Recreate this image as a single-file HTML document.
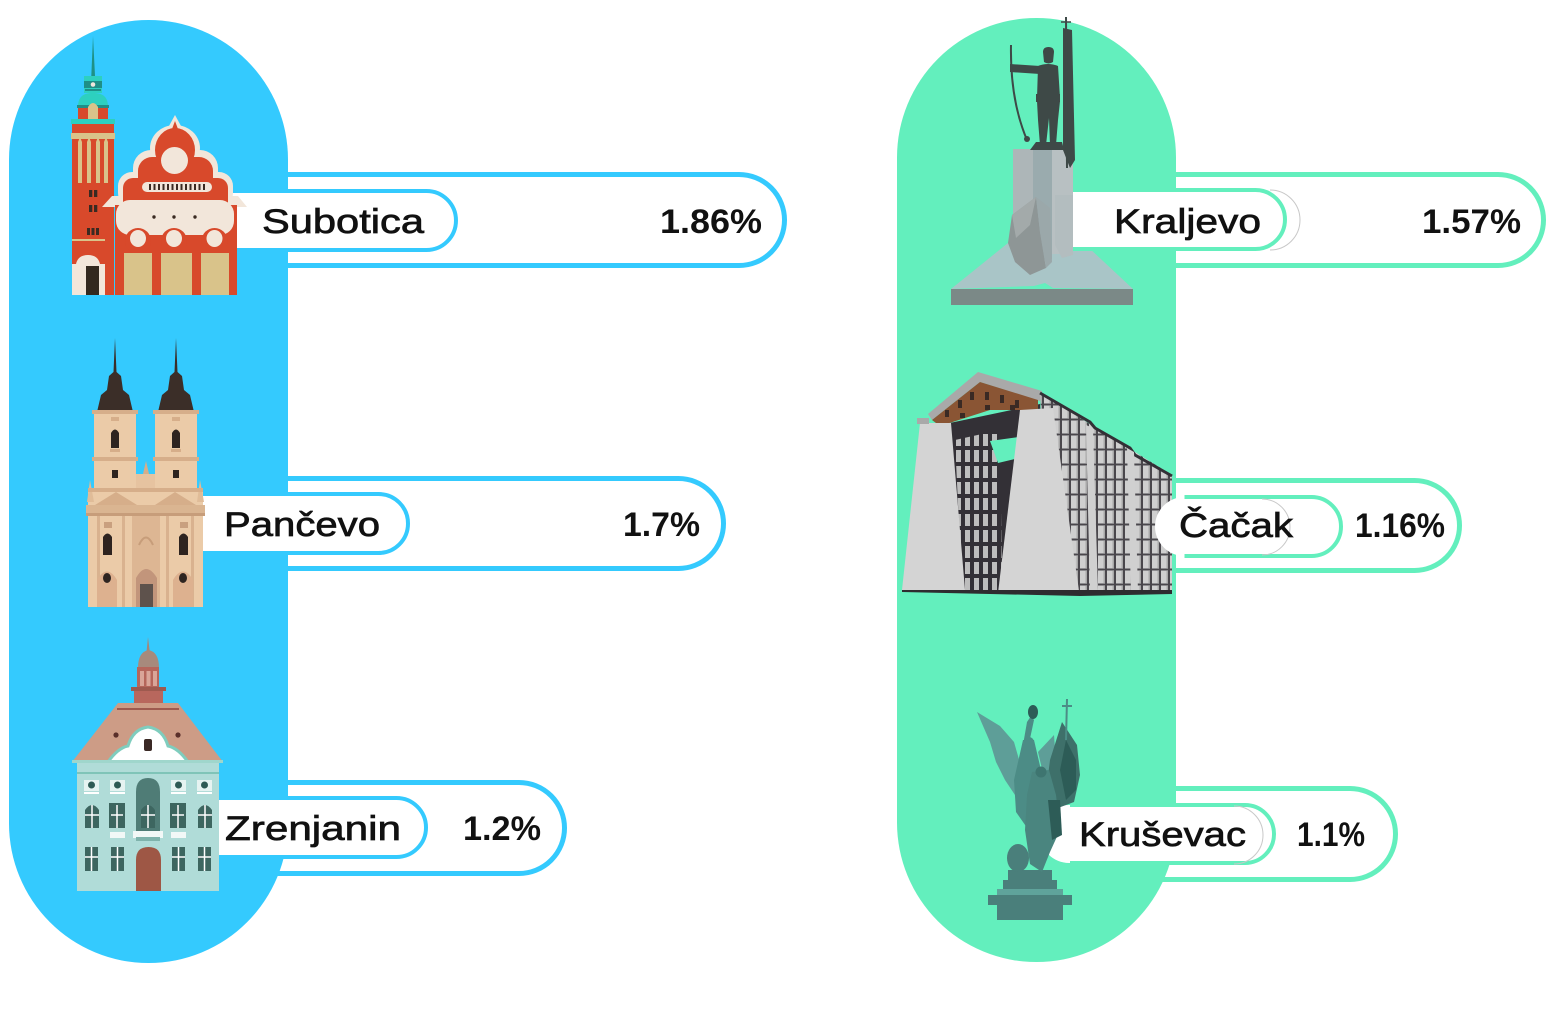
<!DOCTYPE html>
<html><head><meta charset="utf-8">
<style>
html,body{margin:0;padding:0;background:#fff;}
body{width:1549px;height:1010px;overflow:hidden;}
svg{display:block;}
.nm{font-family:"Liberation Sans",sans-serif;font-size:34px;fill:#111;stroke:#111;stroke-width:0.7px;}
.vl{font-family:"Liberation Sans",sans-serif;font-size:34px;font-weight:bold;fill:#111;}
</style></head>
<body>
<svg width="1549" height="1010" viewBox="0 0 1549 1010" xmlns="http://www.w3.org/2000/svg">
<defs>
 <pattern id="pnl" width="9" height="15" patternUnits="userSpaceOnUse">
  <rect width="9" height="15" fill="#4A474C"/>
  <rect x="0" y="0.5" width="7" height="13" fill="#CFCFCF"/>
  <rect x="5.5" y="1" width="1.5" height="12" fill="#A8A8A8"/>
 </pattern>
 <pattern id="pnl2" width="9" height="16" patternUnits="userSpaceOnUse">
  <rect width="9" height="16" fill="#333036"/>
  <rect x="2" y="2" width="5" height="12" fill="#BDBDBD"/>
 </pattern>
</defs>

<!-- ===== OUTER BARS ===== -->
<g fill="#fff" stroke-width="5">
 <rect x="150" y="174.5" width="634.5" height="91" rx="45.5" stroke="#34CAFE"/>
 <rect x="150" y="478.5" width="573.5" height="90" rx="45" stroke="#34CAFE"/>
 <rect x="150" y="782.5" width="414.5" height="91" rx="45.5" stroke="#34CAFE"/>
 <rect x="1037" y="174.5" width="506.5" height="91" rx="45.5" stroke="#63EFBD"/>
 <rect x="1037" y="480.5" width="422.5" height="90" rx="45" stroke="#63EFBD"/>
 <rect x="1037" y="788.5" width="358.5" height="91" rx="45.5" stroke="#63EFBD"/>
</g>

<!-- ===== BIG PILLS ===== -->
<rect x="9" y="20" width="279" height="943" rx="139.5" fill="#34CAFE"/>
<rect x="897" y="18" width="279" height="944" rx="139.5" fill="#63EFBD"/>

<!-- ===== INNER PILLS (left) ===== -->
<g>
 <rect x="150" y="191" width="306" height="59" rx="29.5" fill="#fff"/>
 <path d="M150,191 H426.5 A29.5,29.5 0 0 1 426.5,250 H150" fill="none" stroke="#34CAFE" stroke-width="4"/>
 <rect x="150" y="494" width="258" height="59" rx="29.5" fill="#fff"/>
 <path d="M150,494 H378.5 A29.5,29.5 0 0 1 378.5,553 H150" fill="none" stroke="#34CAFE" stroke-width="4"/>
 <rect x="150" y="798" width="276" height="59" rx="29.5" fill="#fff"/>
 <path d="M150,798 H396.5 A29.5,29.5 0 0 1 396.5,857 H150" fill="none" stroke="#34CAFE" stroke-width="4"/>
</g>

<!-- ===== SUBOTICA ===== -->
<g>
 <polygon points="93,36 91.3,76 95,76" fill="#1F9186"/>
 <rect x="84" y="76" width="18" height="17" fill="#2DD0BF"/>
 <rect x="84" y="81" width="18" height="7" fill="#1F8F86"/>
 <circle cx="93" cy="84.5" r="2.3" fill="#F0E6DC"/>
 <rect x="85" y="89" width="16" height="2" fill="#1F8F86"/>
 <path d="M78,107 C78,96 84,93 93,93 C102,93 108,96 108,107 Z" fill="#2DD0BF"/>
 <rect x="77" y="105" width="32" height="3" fill="#1F8F86"/>
 <rect x="78" y="108" width="30" height="12" fill="#D8492B"/>
 <path d="M88,120 V107 Q93,99 98,107 V120 Z" fill="#D9C38A"/>
 <rect x="71" y="119" width="44" height="5" fill="#2DD0BF"/>
 <rect x="72" y="124" width="42" height="171" fill="#D8492B"/>
 <rect x="71" y="133" width="44" height="6" fill="#D9C38A"/>
 <g fill="#D9C38A">
  <path d="M78,183 V142 L80,137 L82,142 V183 Z"/>
  <path d="M87,183 V142 L89,137 L91,142 V183 Z"/>
  <path d="M96,183 V142 L98,137 L100,142 V183 Z"/>
  <path d="M104,183 V142 L106,137 L108,142 V183 Z"/>
 </g>
 <g fill="#3A2A22">
  <rect x="89" y="190" width="3.3" height="7"/><rect x="94" y="190" width="3.3" height="7"/>
  <rect x="89" y="205" width="3.3" height="7"/><rect x="94" y="205" width="3.3" height="7"/>
  <rect x="87" y="228" width="3" height="7"/><rect x="91.5" y="228" width="3" height="7"/><rect x="96" y="228" width="3" height="7"/>
 </g>
 <rect x="72" y="239" width="33" height="2" fill="#D9C38A"/>
 <path d="M72,295 V264 H76 Q78,255 88,255 Q98,255 100,264 H105 V295 Z" fill="#F2E6DA"/>
 <rect x="86" y="266" width="13" height="29" fill="#33291F"/>
 <g fill="#F2E6DA">
  <path d="M169,126 L175,115 L181,126 Z"/>
  <ellipse cx="175" cy="148" rx="25" ry="23"/>
  <rect x="133" y="150" width="85" height="50" rx="18"/>
  <rect x="118" y="172" width="115" height="35" rx="14"/>
  <polygon points="102,207 112,196 238,196 247,207"/>
 </g>
 <g fill="#D8492B">
  <path d="M172,129 L175,121 L178,129 Z"/>
  <ellipse cx="175" cy="150" rx="20" ry="22"/>
  <rect x="138" y="157" width="75" height="45" rx="14"/>
  <rect x="123" y="178" width="105" height="35" rx="10"/>
  <rect x="115" y="205" width="122" height="90"/>
 </g>
 <circle cx="174.5" cy="160.5" r="13.5" fill="#F2E6DA"/>
 <rect x="142" y="182" width="70" height="10" rx="5" fill="#F2E6DA"/>
 <g fill="#3A2A22">
  <rect x="149" y="184" width="2" height="6"/><rect x="153.5" y="184" width="2" height="6"/><rect x="158" y="184" width="2" height="6"/>
  <rect x="162.5" y="184" width="2" height="6"/><rect x="167" y="184" width="2" height="6"/><rect x="171.5" y="184" width="2" height="6"/>
  <rect x="176" y="184" width="2" height="6"/><rect x="180.5" y="184" width="2" height="6"/><rect x="185" y="184" width="2" height="6"/>
  <rect x="189.5" y="184" width="2" height="6"/><rect x="194" y="184" width="2" height="6"/><rect x="198.5" y="184" width="2" height="6"/>
  <rect x="203" y="184" width="2" height="6"/>
 </g>
 <rect x="116" y="200" width="118" height="35" rx="14" fill="#F2E6DA"/>
 <g fill="#D8492B">
  <circle cx="138" cy="241" r="13"/><circle cx="174" cy="241" r="13"/><circle cx="214.5" cy="241" r="13"/>
 </g>
 <g fill="#F2E6DA">
  <ellipse cx="138" cy="238.5" rx="8" ry="8.5"/><ellipse cx="174" cy="238.5" rx="8" ry="8.5"/><ellipse cx="214.5" cy="238.5" rx="8" ry="8.5"/>
 </g>
 <g fill="#3A2A22"><circle cx="154" cy="217" r="1.7"/><circle cx="174" cy="217" r="1.7"/><circle cx="195" cy="217" r="1.7"/></g>
 <g fill="#D9C38A">
  <rect x="124" y="253" width="28" height="42"/><rect x="161" y="253" width="31" height="42"/><rect x="201" y="253" width="28" height="42"/>
 </g>
</g>

<!-- ===== PANCEVO ===== -->
<g>
 <path d="M115,338 L116.5,372 L121,376 L123,390 L129,395 L133,412 L97,412 L101,395 L107,390 L109,376 L113.5,372 Z" fill="#3B2E28"/>
 <path d="M176,338 L177.5,372 L182,376 L184,390 L190,395 L194,412 L158,412 L162,395 L168,390 L170,376 L174.5,372 Z" fill="#3B2E28"/>
 <rect x="94" y="412" width="42" height="80" fill="#EBCBA8"/>
 <rect x="155" y="412" width="42" height="80" fill="#EBCBA8"/>
 <g fill="#D6AE8A">
  <rect x="92" y="410" width="46" height="4"/><rect x="153" y="410" width="46" height="4"/>
  <rect x="92" y="457" width="46" height="4"/><rect x="153" y="457" width="46" height="4"/>
  <rect x="111" y="417" width="8" height="4"/><rect x="172" y="417" width="8" height="4"/>
  <rect x="110" y="449" width="10" height="3"/><rect x="171" y="449" width="10" height="3"/>
 </g>
 <g fill="#2E2420">
  <path d="M111,448 V433 Q115,426 119,433 V448 Z"/>
  <path d="M172,448 V433 Q176,426 180,433 V448 Z"/>
  <rect x="112" y="470" width="6" height="8"/><rect x="173" y="470" width="6" height="8"/>
 </g>
 <rect x="136" y="474" width="19" height="16" fill="#E6C3A0"/>
 <polygon points="143,474 146,461 149,474" fill="#D6AE8A"/>
 <rect x="88" y="488" width="115" height="119" fill="#EBCBA8"/>
 <polygon points="87,502 90,480 94,502" fill="#E0BC98"/>
 <polygon points="197,502 200,480 204,502" fill="#E0BC98"/>
 <rect x="88" y="488" width="115" height="4" fill="#D6AE8A"/>
 <polygon points="95,505 116,492 137,505" fill="#D6AE8A"/>
 <polygon points="155,505 175,492 196,505" fill="#D6AE8A"/>
 <rect x="86" y="505" width="119" height="10" fill="#DAB591"/>
 <rect x="86" y="513" width="119" height="3" fill="#C79D7A"/>
 <rect x="132" y="516" width="28" height="91" fill="#DDB693"/>
 <g fill="#D9B28F">
  <rect x="97" y="516" width="3" height="91"/><rect x="122" y="516" width="3" height="91"/>
  <rect x="166" y="516" width="3" height="91"/><rect x="191" y="516" width="3" height="91"/>
 </g>
 <path d="M139,545 Q146,530 153,545" fill="none" stroke="#C79D7A" stroke-width="2"/>
 <g fill="#C9A07F"><rect x="104" y="522" width="8" height="6"/><rect x="180" y="522" width="8" height="6"/></g>
 <g fill="#2E2420">
  <path d="M103,555 V537 Q107.5,530 112,537 V555 Z"/>
  <path d="M179,555 V537 Q183.5,530 188,537 V555 Z"/>
 </g>
 <g fill="#DDB18F">
  <path d="M97,607 V580 Q107,563 117,580 V607 Z"/>
  <path d="M173,607 V580 Q183,563 193,580 V607 Z"/>
 </g>
 <g fill="#2E2420"><ellipse cx="107" cy="578" rx="4" ry="5"/><ellipse cx="183" cy="578" rx="4" ry="5"/></g>
 <path d="M136,607 V578 Q146,560 157,578 V607 Z" fill="#C2957B"/>
 <rect x="140" y="584" width="13" height="23" fill="#5E524C"/>
</g>

<!-- ===== ZRENJANIN ===== -->
<g>
 <polygon points="148,637 146.5,652 149.8,652" fill="#A4877A"/>
 <path d="M138,668 Q138,652 148.5,650 Q159,652 159,668 Z" fill="#A78A7C"/>
 <rect x="137" y="667" width="22" height="21" fill="#B5665B"/>
 <g fill="#D9A598"><rect x="140" y="671" width="4" height="15"/><rect x="146.5" y="671" width="4" height="15"/><rect x="153" y="671" width="4" height="15"/></g>
 <rect x="131" y="687" width="35" height="4" fill="#9E5A4F"/>
 <rect x="134" y="691" width="29" height="12" fill="#B8675D"/>
 <polygon points="118,703 178,703 223,762 72,762" fill="#CD9C86"/>
 <rect x="117" y="708" width="62" height="2" fill="#9E5A4F"/>
 <path d="M108,762 Q118,748 128,746 Q133,729 148,727 Q163,729 168,746 Q178,748 188,762 Z" fill="#fff" stroke="#7FCDBE" stroke-width="3"/>
 <rect x="144" y="739" width="8" height="12" rx="2" fill="#3A2925"/>
 <circle cx="116" cy="735" r="2.6" fill="#5A2F2A"/><circle cx="178" cy="735" r="2.6" fill="#5A2F2A"/>
 <rect x="72" y="760" width="151" height="3" fill="#9FD6CC"/>
 <rect x="77" y="763" width="142" height="128" fill="#B0DCD8"/>
 <rect x="77" y="772" width="142" height="2" fill="#7FC4B8"/>
 <path d="M136,831 V792 Q136,778 148,778 Q160,778 160,792 V831 Z" fill="#4F7C76"/>
 <g>
  <rect x="84" y="780" width="15" height="11" fill="#E6F3F1"/><circle cx="91.5" cy="785" r="3.5" fill="#2E5A54"/><rect x="84" y="792" width="15" height="2" fill="#fff"/>
  <rect x="110" y="780" width="15" height="11" fill="#E6F3F1"/><circle cx="117.5" cy="785" r="3.5" fill="#2E5A54"/><rect x="110" y="792" width="15" height="2" fill="#fff"/>
  <rect x="171" y="780" width="15" height="11" fill="#E6F3F1"/><circle cx="178.5" cy="785" r="3.5" fill="#2E5A54"/><rect x="171" y="792" width="15" height="2" fill="#fff"/>
  <rect x="197" y="780" width="15" height="11" fill="#E6F3F1"/><circle cx="204.5" cy="785" r="3.5" fill="#2E5A54"/><rect x="197" y="792" width="15" height="2" fill="#fff"/>
 </g>
 <g fill="#3D6660">
  <path d="M85,828 V810 Q92,800 99,810 V828 Z"/>
  <rect x="109" y="803" width="16" height="25"/>
  <path d="M141,828 V810 Q148,800 155,810 V828 Z"/>
  <rect x="170" y="803" width="16" height="25"/>
  <path d="M198,828 V810 Q205,800 212,810 V828 Z"/>
 </g>
 <g stroke="#fff" stroke-width="1.5">
  <line x1="92" y1="805" x2="92" y2="828"/><line x1="85" y1="815" x2="99" y2="815"/>
  <line x1="117" y1="805" x2="117" y2="828"/><line x1="111" y1="815" x2="123" y2="815"/>
  <line x1="148" y1="805" x2="148" y2="828"/><line x1="141" y1="815" x2="155" y2="815"/>
  <line x1="178" y1="805" x2="178" y2="828"/><line x1="172" y1="815" x2="184" y2="815"/>
  <line x1="205" y1="805" x2="205" y2="828"/><line x1="198" y1="815" x2="212" y2="815"/>
 </g>
 <g fill="#F2F8F7"><rect x="110" y="832" width="15" height="6"/><rect x="171" y="832" width="15" height="6"/><rect x="133" y="831" width="30" height="7"/></g>
 <rect x="136" y="837" width="24" height="4" fill="#7FB3AC"/>
 <g fill="#3D6660">
  <rect x="85" y="847" width="13" height="24"/><rect x="111" y="847" width="13" height="24"/>
  <rect x="172" y="847" width="13" height="24"/><rect x="198" y="847" width="13" height="24"/>
 </g>
 <g stroke="#fff" stroke-width="1.5">
  <line x1="91.5" y1="847" x2="91.5" y2="871"/><line x1="85" y1="857" x2="98" y2="857"/>
  <line x1="117.5" y1="847" x2="117.5" y2="871"/><line x1="111" y1="857" x2="124" y2="857"/>
  <line x1="178.5" y1="847" x2="178.5" y2="871"/><line x1="172" y1="857" x2="185" y2="857"/>
  <line x1="204.5" y1="847" x2="204.5" y2="871"/><line x1="198" y1="857" x2="211" y2="857"/>
 </g>
 <path d="M136,891 V860 Q136,847 148.5,847 Q161,847 161,860 V891 Z" fill="#9E5745"/>
</g>

<!-- ===== KRALJEVO ===== -->
<g>
 <rect x="951" y="289" width="182" height="16" fill="#7B8987"/>
 <polygon points="951,289 1008,243 1040,252 1073,233 1133,289 1053,288 1045,283 1034,286" fill="#A9C5C7"/>
 <rect x="1040" y="190" width="247" height="59" rx="29.5" fill="#fff"/>
 <path d="M1040,190 H1255.5 A29.5,29.5 0 0 1 1255.5,249 H1040" fill="none" stroke="#63EFBD" stroke-width="4"/>
 <path d="M1270,190 A30,30 0 0 1 1270,250" fill="none" stroke="#C8C8C8" stroke-width="1"/>
 <rect x="1013" y="149" width="20" height="100" fill="#ADB6B8"/>
 <rect x="1033" y="149" width="19" height="110" fill="#9AABAE"/>
 <rect x="1052" y="149" width="21" height="105" fill="#B8C0C2"/>
 <polygon points="1055,195 1073,195 1073,255 1062,258 1055,245" fill="#B3BDBF"/>
 <polygon points="1008,243 1012,215 1036,197 1040,232 1046,268 1030,275 1015,262" fill="#8E9696"/>
 <polygon points="1012,215 1036,197 1030,225 1016,238" fill="#A3AAAA"/>
 <polygon points="1036,197 1050,208 1052,262 1046,268 1040,232" fill="#9BA8AA"/>
 <g fill="#3E4947">
  <path d="M1043,52 Q1043,47 1048.5,47 Q1054,47 1054,52 L1053,62 Q1048.5,65 1044,62 Z"/>
  <path d="M1038,66 Q1048,62 1058,66 L1060,98 L1037,98 Z"/>
  <polygon points="1010,64 1040,66 1040,74 1010,72"/>
  <rect x="1036" y="94" width="24" height="8"/>
  <polygon points="1037,101 1060,101 1058,120 1056,145 1050,145 1049,118 1046,145 1040,145 1038,120"/>
  <polygon points="1030,150 1036,142 1062,142 1064,150"/>
  <polygon points="1063,28 1072,30 1075,160 1070,168 1063,150"/>
 </g>
 <path d="M1011,45 Q1010,100 1027,140" fill="none" stroke="#3E4947" stroke-width="2"/>
 <circle cx="1027" cy="139" r="3" fill="#3E4947"/>
 <line x1="1066" y1="17" x2="1067" y2="168" stroke="#3E4947" stroke-width="2"/>
 <line x1="1061" y1="22" x2="1071" y2="22" stroke="#3E4947" stroke-width="1.5"/>
</g>

<!-- ===== CACAK ===== -->
<g>
 <polygon points="945,424 1040,404 1050,590 958,592" fill="#333036"/>
 <polygon points="955,440 1000,430 1002,590 962,590" fill="url(#pnl2)"/>
 <polygon points="990,441 1019,437 1019,458 998,463" fill="#63EFBD"/>
 <polygon points="928,414 978,372 1042,391 1040,401 980,382 932,420" fill="#A9A9A9"/>
 <polygon points="932,420 980,382 1038,400 1038,410 990,410 940,426" fill="#8A5534"/>
 <g fill="#3A2A24">
  <rect x="945" y="410" width="4" height="7"/><rect x="958" y="400" width="4" height="8"/><rect x="970" y="392" width="4" height="8"/>
  <rect x="985" y="392" width="4" height="8"/><rect x="1000" y="395" width="4" height="8"/><rect x="1015" y="400" width="4" height="8"/>
  <rect x="960" y="413" width="5" height="5"/><rect x="985" y="405" width="5" height="5"/><rect x="1010" y="405" width="5" height="5"/>
 </g>
 <polygon points="920,423 951,423 965,590 902,590" fill="#D4D4D4"/>
 <rect x="917" y="418" width="12" height="6" fill="#A9A9A9"/>
 <polygon points="1040,393 1172,475 1172,592 1050,592" fill="url(#pnl)"/>
 <polyline points="1040,393 1090,422 1095,428 1130,448 1135,455 1172,476" fill="none" stroke="#333036" stroke-width="3"/>
 <polygon points="1086,425 1093,428 1098,592 1090,592" fill="#D0D0D0"/>
 <polygon points="1127,448 1134,452 1138,592 1131,592" fill="#D0D0D0"/>
 <polygon points="1020,410 1053,408 1079,591 998,593" fill="#D4D4D4"/>
 <polygon points="902,590 1172,590 1172,594 1080,596 902,592" fill="#2E2C30"/>
 <rect x="1155" y="497" width="186" height="59" rx="29.5" fill="#fff"/>
 <path d="M1184.5,497 H1311.5 A29.5,29.5 0 0 1 1311.5,556 H1184.5" fill="none" stroke="#63EFBD" stroke-width="4"/>
 <path d="M1262,499 A28,28 0 0 1 1262,555" fill="none" stroke="#C8C8C8" stroke-width="1"/>
</g>

<!-- ===== KRUSEVAC ===== -->
<rect x="1040" y="805" width="234" height="58" rx="29" fill="#fff"/>
<path d="M1070,805 H1245 A29,29 0 0 1 1245,863 H1070" fill="none" stroke="#63EFBD" stroke-width="4"/>
<path d="M1234,806 A29,29 0 0 1 1234,864" fill="none" stroke="#C8C8C8" stroke-width="1"/>
<g>
 <rect x="997" y="903" width="66" height="17" fill="#4A7F7B"/>
 <rect x="988" y="895" width="84" height="10" fill="#4A7F7B"/>
 <rect x="997" y="889" width="66" height="6" fill="#5FA39B"/>
 <rect x="1003" y="880" width="54" height="9" fill="#4A7F7B"/>
 <rect x="1008" y="870" width="44" height="10" fill="#4A7F7B"/>
 <polygon points="977,712 1000,726 1014,742 1022,770 1015,795 1005,780 996,762 990,742" fill="#5E9E98"/>
 <polygon points="1038,752 1054,735 1056,762 1046,786" fill="#5E9E98"/>
 <polygon points="1062,722 1077,745 1080,775 1074,802 1058,808 1046,792 1050,760" fill="#3E706A"/>
 <polygon points="1066,740 1076,760 1076,790 1066,800 1060,770" fill="#2D5C57"/>
 <polygon points="1023,740 1034,740 1041,770 1045,800 1040,825 1030,832 1016,812 1014,780" fill="#4C8C86"/>
 <polygon points="1023,745 1027,722 1031,716 1034,720 1028,748" fill="#4C8C86"/>
 <ellipse cx="1033" cy="712" rx="5" ry="7" fill="#2D5C57"/>
 <circle cx="1029" cy="742" r="5" fill="#4C8C86"/>
 <polygon points="1032,772 1049,770 1056,795 1060,830 1050,852 1042,872 1030,864 1025,830 1027,795" fill="#4A857F"/>
 <circle cx="1041" cy="772" r="5.5" fill="#3E7570"/>
 <polygon points="1048,800 1060,800 1062,835 1052,840" fill="#2D5C57"/>
 <ellipse cx="1018" cy="858" rx="11" ry="14" fill="#4A7F7B"/>
 <line x1="1067" y1="699" x2="1066" y2="740" stroke="#4C8C86" stroke-width="2"/>
 <line x1="1062" y1="706" x2="1072" y2="706" stroke="#4C8C86" stroke-width="2"/>
</g>

<!-- ===== TEXT ===== -->
<text class="nm" x="262" y="233" textLength="162" lengthAdjust="spacingAndGlyphs">Subotica</text>
<text class="vl" x="660" y="233" textLength="102" lengthAdjust="spacingAndGlyphs">1.86%</text>
<text class="nm" x="224" y="536" textLength="156" lengthAdjust="spacingAndGlyphs">Pančevo</text>
<text class="vl" x="623" y="536" textLength="77" lengthAdjust="spacingAndGlyphs">1.7%</text>
<text class="nm" x="225" y="840" textLength="176" lengthAdjust="spacingAndGlyphs">Zrenjanin</text>
<text class="vl" x="463" y="840" textLength="78" lengthAdjust="spacingAndGlyphs">1.2%</text>
<text class="nm" x="1114" y="233" textLength="147" lengthAdjust="spacingAndGlyphs">Kraljevo</text>
<text class="vl" x="1422" y="233" textLength="99" lengthAdjust="spacingAndGlyphs">1.57%</text>
<text class="nm" x="1179" y="537" textLength="114" lengthAdjust="spacingAndGlyphs">Čačak</text>
<text class="vl" x="1355" y="537" textLength="90" lengthAdjust="spacingAndGlyphs">1.16%</text>
<text class="nm" x="1079" y="846" textLength="167" lengthAdjust="spacingAndGlyphs">Kruševac</text>
<text class="vl" x="1297" y="846" textLength="68" lengthAdjust="spacingAndGlyphs">1.1%</text>
</svg>
</body></html>
